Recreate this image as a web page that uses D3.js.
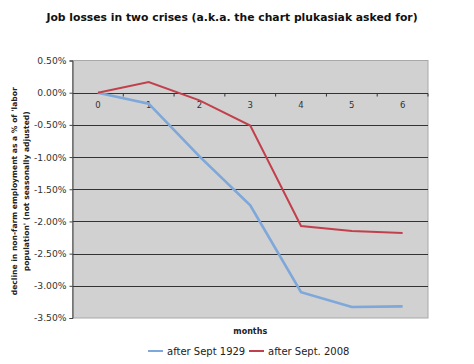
<!DOCTYPE html>
<html>
<head>
<meta charset="utf-8">
<script src="https://cdn.jsdelivr.net/npm/d3@7"></script>
<style>
  body { margin: 0; background: #fff; }
  svg { display: block; }
  .grid line { stroke: #333; stroke-width: 1; }
</style>
</head>
<body>
<div id="chart"></div>
<script>
const months = ["0", "1", "2", "3", "4", "5", "6"];
const after1929 = [0, -0.17, -0.99, -1.75, -3.10, -3.33, -3.32];
const after2008 = [0, 0.165, -0.12, -0.51, -2.07, -2.15, -2.18];
const yTicks = [0.5, 0, -0.5, -1, -1.5, -2, -2.5, -3, -3.5];
const seriesNames = ["after Sept 1929", "after Sept. 2008"];

const width = 474, height = 364;
const margin = { top: 60.5, right: 46, bottom: 46, left: 72.5 };
const font = "Verdana, 'DejaVu Sans', sans-serif";

const svg = d3.select("#chart").append("svg")
  .attr("width", width)
  .attr("height", height)
  .style("font-family", font);

const x = d3.scaleBand()
  .domain(months)
  .range([margin.left, width - margin.right]);

const y = d3.scaleLinear()
  .domain([-3.5, 0.5])
  .range([height - margin.bottom, margin.top]);

// plot background
svg.append("rect")
  .attr("x", margin.left)
  .attr("y", margin.top)
  .attr("width", x.range()[1] - x.range()[0])
  .attr("height", y(-3.5) - y(0.5))
  .attr("fill", "#d1d1d1")
  .attr("stroke", "#a8a8a8");

// horizontal gridlines
svg.append("g")
  .attr("class", "grid")
  .selectAll("line")
  .data(yTicks.filter(d => d < 0.5 && d > -3.5))
  .enter()
  .append("line")
  .attr("x1", margin.left)
  .attr("x2", width - margin.right)
  .attr("y1", d => Math.round(y(d)) + 0.5)
  .attr("y2", d => Math.round(y(d)) + 0.5);

// left axis
const yAxis = svg.append("g")
  .attr("transform", `translate(${margin.left},0)`)
  .call(d3.axisLeft(y).tickValues(yTicks).tickSize(3)
    .tickFormat(d => d.toFixed(2) + "%"));
yAxis.select(".domain").attr("stroke", "#444");
yAxis.selectAll(".tick line").attr("stroke", "#444");
yAxis.selectAll("text")
  .attr("font-family", font)
  .attr("font-size", 9.2)
  .attr("fill", "#333");

// x axis on the zero line, ticks on band edges
const zeroY = Math.round(y(0)) + 0.5;
svg.append("g")
  .selectAll("line")
  .data(months.slice(1).concat(["end"]))
  .enter()
  .append("line")
  .attr("x1", (d, i) => x(months[0]) + x.bandwidth() * (i + 1))
  .attr("x2", (d, i) => x(months[0]) + x.bandwidth() * (i + 1))
  .attr("y1", zeroY)
  .attr("y2", zeroY + 3)
  .attr("stroke", "#333");

svg.append("g")
  .selectAll("text")
  .data(months)
  .enter()
  .append("text")
  .attr("x", d => x(d) + x.bandwidth() / 2)
  .attr("y", zeroY + 14)
  .attr("text-anchor", "middle")
  .attr("font-size", 8.5)
  .attr("fill", "#333")
  .text(d => d);

// lines
const line = d3.line()
  .x((d, i) => x(months[i]) + x.bandwidth() / 2)
  .y(d => y(d));

svg.append("path")
  .datum(after1929)
  .attr("d", line)
  .attr("fill", "none")
  .attr("stroke", "#7ea7da")
  .attr("stroke-width", 2.6);

svg.append("path")
  .datum(after2008)
  .attr("d", line)
  .attr("fill", "none")
  .attr("stroke", "#c2404c")
  .attr("stroke-width", 2);

// title
svg.append("text")
  .attr("x", 232)
  .attr("y", 21)
  .attr("text-anchor", "middle")
  .attr("font-size", 10.8)
  .attr("font-weight", "bold")
  .attr("fill", "#111")
  .text("Job losses in two crises (a.k.a. the chart plukasiak asked for)");

// y title
const yTitle = svg.append("text")
  .attr("transform", `translate(17,${(margin.top + height - margin.bottom) / 2 + 2}) rotate(-90)`)
  .attr("text-anchor", "middle")
  .attr("font-size", 7.6)
  .attr("font-weight", "bold")
  .attr("fill", "#222");
yTitle.append("tspan").attr("x", 0).attr("dy", 0)
  .text("decline in non-farm employment as a % of 'labor");
yTitle.append("tspan").attr("x", 0).attr("dy", 12)
  .text("population' (not seasonally adjusted)");

// x title
svg.append("text")
  .attr("x", (margin.left + width - margin.right) / 2)
  .attr("y", 334)
  .attr("text-anchor", "middle")
  .attr("font-size", 8)
  .attr("font-weight", "bold")
  .attr("fill", "#222")
  .text("months");

// legend
const legendColors = ["#7ea7da", "#c2404c"];
const legendX = [148, 249];
const legend = svg.append("g")
  .selectAll("g")
  .data(seriesNames)
  .enter()
  .append("g")
  .attr("transform", (d, i) => `translate(${legendX[i]},351)`);
legend.append("line")
  .attr("x1", 0).attr("x2", 15)
  .attr("stroke", (d, i) => legendColors[i])
  .attr("stroke-width", 2);
legend.append("text")
  .attr("x", 19)
  .attr("y", 3.5)
  .attr("font-size", 10)
  .attr("fill", "#222")
  .text(d => d);
</script>
</body>
</html>
